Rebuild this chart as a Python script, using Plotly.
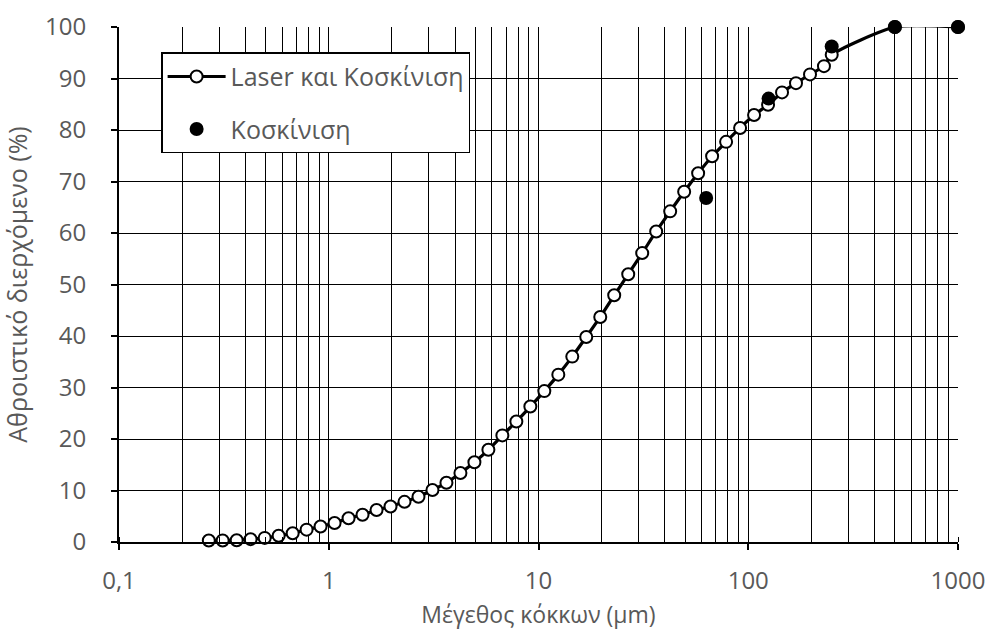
import plotly.graph_objects as go

# Laser + sieving combined curve (particle size in µm, cumulative passing %)
laser_size = [0.268, 0.312, 0.364, 0.424, 0.495, 0.577, 0.673, 0.784, 0.914, 1.066,
              1.243, 1.449, 1.690, 1.970, 2.297, 2.678, 3.122, 3.640, 4.244, 4.948,
              5.769, 6.726, 7.842, 9.143, 10.66, 12.43, 14.49, 16.89, 19.70, 22.96,
              26.78, 31.22, 36.40, 42.44, 49.48, 57.69, 67.26, 78.42, 91.43, 106.6,
              124.3, 144.9, 168.9, 197.0, 229.6, 250, 500, 1000]
laser_pass = [0.3, 0.3, 0.35, 0.55, 0.8, 1.2, 1.7, 2.4, 3.0, 3.7,
              4.6, 5.3, 6.2, 6.9, 7.8, 8.8, 10.1, 11.5, 13.4, 15.5,
              17.9, 20.7, 23.4, 26.3, 29.3, 32.5, 36.0, 39.8, 43.7, 47.9,
              52.0, 56.1, 60.3, 64.2, 68.0, 71.6, 74.9, 77.7, 80.4, 82.9,
              84.9, 87.3, 89.1, 90.8, 92.4, 94.6, 100, 100]

# Sieving only
sieve_size = [63, 125, 250, 500, 1000]
sieve_pass = [66.8, 86.1, 96.2, 100, 100]

x_tickvals = [0.1, 1, 10, 100, 1000]
x_ticktext = ["0,1", "1", "10", "100", "1000"]

series_names = ["Laser και Κοσκίνιση", "Κοσκίνιση"]
x_title = "Μέγεθος κόκκων (μm)"
y_title = "Αθροιστικό διερχόμενο (%)"

FONT = "Open Sans"
GREY = "#595959"

fig = go.Figure()
fig.add_trace(go.Scatter(
    x=laser_size, y=laser_pass, name=series_names[0], legendgroup="a",
    mode="lines+markers", cliponaxis=False,
    line=dict(color="black", width=3.2, shape="spline", smoothing=0.6),
    marker=dict(symbol="circle", size=12, color="white",
                line=dict(color="black", width=2)),
))
fig.add_trace(go.Scatter(
    x=sieve_size, y=sieve_pass, name=series_names[1], legendgroup="b",
    mode="markers", cliponaxis=False,
    marker=dict(symbol="circle", size=14, color="black"),
))

fig.update_layout(
    width=988, height=634,
    margin=dict(l=119, r=30, t=27, b=92, autoexpand=False),
    paper_bgcolor="white", plot_bgcolor="white",
    font=dict(family=FONT, size=22, color=GREY),
    showlegend=True,
    legend=dict(
        x=0.0502, y=0.951, xanchor="left", yanchor="top",
        bgcolor="white", bordercolor="black", borderwidth=1.5,
        font=dict(family=FONT, size=25, color=GREY),
        tracegroupgap=17, itemwidth=58,
    ),
)

fig.update_xaxes(
    type="log", range=[-1, 3], automargin=False,
    tickmode="array", tickvals=x_tickvals, ticktext=x_ticktext,
    ticks="outside", ticklen=6, tickwidth=2, tickcolor="black",
    showline=True, linewidth=2, linecolor="black",
    showgrid=True, gridcolor="black", gridwidth=1,
    minor=dict(dtick="D1", showgrid=True, gridcolor="black", gridwidth=1,
               ticks="inside", ticklen=5, tickcolor="black", tickwidth=1),
    ticklabelstandoff=10,
    tickfont=dict(family=FONT, size=24, color=GREY),
    title=dict(text=x_title, font=dict(family=FONT, size=23, color=GREY), standoff=12),
    zeroline=False,
)
fig.update_yaxes(
    range=[0, 100], dtick=10, tick0=0, automargin=False,
    ticks="outside", ticklen=6, tickwidth=2, tickcolor="black",
    showline=True, linewidth=2, linecolor="black",
    showgrid=True, gridcolor="black", gridwidth=1,
    ticklabelstandoff=20,
    tickfont=dict(family=FONT, size=24, color=GREY),
    title=dict(text=y_title, font=dict(family=FONT, size=25, color=GREY), standoff=10),
    zeroline=False,
)

fig.write_html("out.html")
